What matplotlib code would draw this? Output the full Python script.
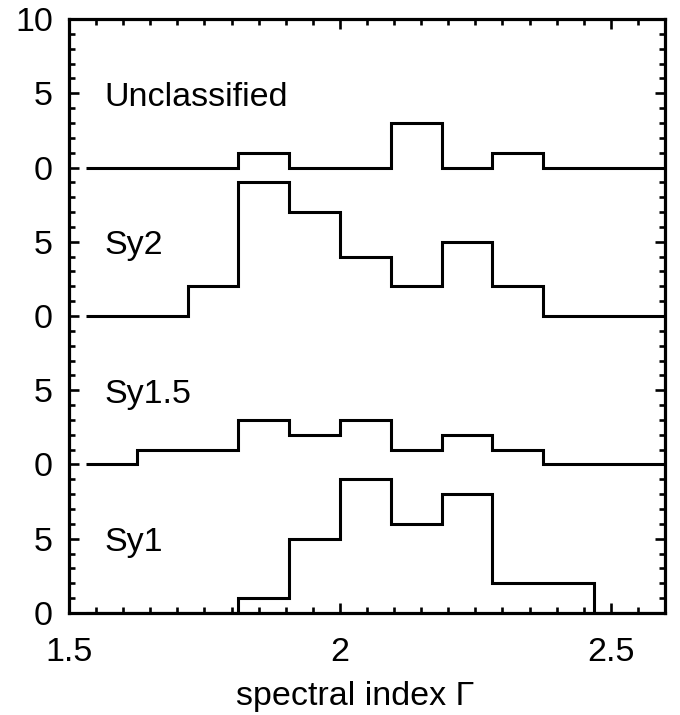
import matplotlib
matplotlib.use("Agg")
import matplotlib.pyplot as plt
import matplotlib.transforms as mtransforms
import numpy as np
from matplotlib.ticker import MultipleLocator, FixedLocator

# bin edges of the spectral index histograms (width 0.09375)
bin_edges = [1.53125, 1.625, 1.71875, 1.8125, 1.90625, 2.0, 2.09375,
             2.1875, 2.28125, 2.375, 2.46875, 2.5625, 2.65625]

# counts per bin, one panel per class (top to bottom)
classes = ["Unclassified", "Sy2", "Sy1.5", "Sy1"]
counts_unclassified = [0, 0, 0, 1, 0, 0, 3, 0, 1, 0, 0, 0]
counts_sy2 = [0, 0, 2, 9, 7, 4, 2, 5, 2, 0, 0, 0]
counts_sy15 = [0, 1, 1, 3, 2, 3, 1, 2, 1, 0, 0, 0]
counts_sy1 = [0, 0, 0, 1, 5, 9, 6, 8, 2, 2, 0, 0]
all_counts = [counts_unclassified, counts_sy2, counts_sy15, counts_sy1]

x_ticks = [1.5, 2.0, 2.5]
x_tick_labels = ["1.5", "2", "2.5"]
y_tick_labels = ["0", "5", "0", "5", "0", "5", "0", "5", "10"]

panel_height = 10
fs = 24.5
plt.rcParams["font.family"] = ["Liberation Sans", "DejaVu Sans"]

fig = plt.figure(figsize=(6.8, 7.15), dpi=100)
ax = fig.add_axes([0.1015, 0.1427, 0.8765, 0.8307])

# shift names down by half a cap height so the letters sit centred on y=5
name_shift = mtransforms.ScaledTranslation(0, -9 / 72, fig.dpi_scale_trans)

n = len(classes)
for i, (name, counts) in enumerate(zip(classes, all_counts)):
    offset = (n - 1 - i) * panel_height
    vals = np.array(counts, dtype=float) + offset
    ax.stairs(vals, bin_edges, baseline=None, color="black", linewidth=2.2)
    ax.text(1.565, offset + 5, name, fontsize=fs, va="baseline", ha="left",
            transform=ax.transData + name_shift)

ax.set_xlim(1.5, 2.6)
ax.set_ylim(0, n * panel_height)

ax.xaxis.set_major_locator(FixedLocator(x_ticks))
ax.xaxis.set_minor_locator(MultipleLocator(0.05))
ax.set_xticklabels(x_tick_labels)
ax.set_yticks(np.arange(0, n * panel_height + 1, 5))
ax.yaxis.set_minor_locator(MultipleLocator(1))
ax.set_yticklabels(y_tick_labels)

ax.tick_params(which="both", direction="in", top=True, right=True,
               width=1.9, labelsize=fs)
ax.tick_params(which="major", length=7.2)
ax.tick_params(which="minor", length=4.3)
ax.tick_params(axis="y", pad=11.5)
ax.tick_params(axis="x", pad=17)
for s in ax.spines.values():
    s.set_linewidth(2.3)

ax.set_xlabel("spectral index Γ", fontsize=fs)
ax.xaxis.label.set_va("baseline")
ax.xaxis.set_label_coords(0.48, -0.155)

fig.savefig("out.png", dpi=100)
